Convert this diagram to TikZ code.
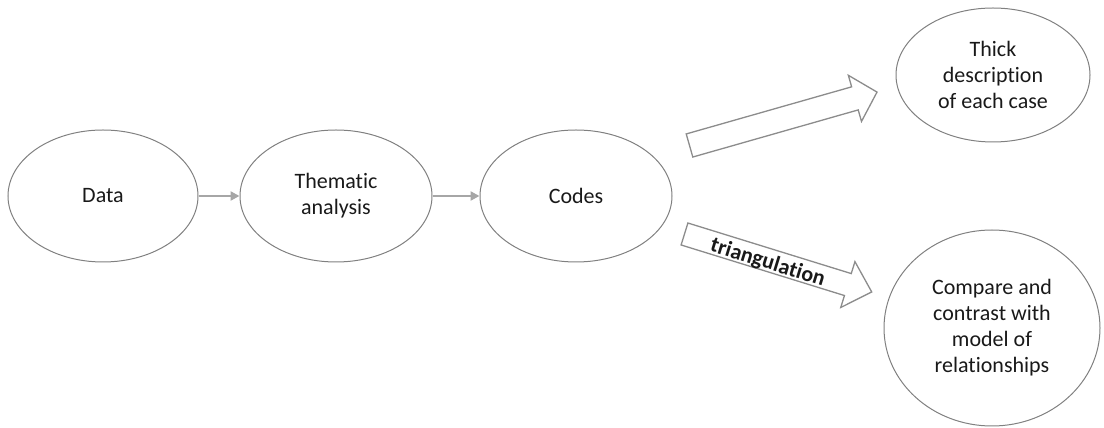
\documentclass[tikz,border=0pt]{standalone}
\usepackage{fontspec}
\setmainfont[RawFeature=-liga]{Carlito}
\usetikzlibrary{shapes.geometric,arrows.meta}
\definecolor{outl}{RGB}{128,128,128}
\definecolor{conn}{RGB}{166,166,166}
\definecolor{blk}{RGB}{140,140,140}
\tikzset{
  oval/.style={ellipse, draw=outl, line width=1pt, inner sep=0pt, align=center,
    font=\fontsize{22}{26}\selectfont, text=black!90},
  connarrow/.style={draw=conn, line width=2.5pt, -{Triangle[length=9pt,width=9pt]}},
  blockarrow/.style={draw=blk, line width=1.3pt, fill=white, line join=miter}
}
\begin{document}
\begin{tikzpicture}[x=1pt,y=1pt]
\useasboundingbox (0,0) rectangle (1104,428);
\node[oval, minimum width=190pt, minimum height=132pt] (data) at (103,232) {Data};
\node[oval, minimum width=192pt, minimum height=132pt] (them) at (336,232) {Thematic\\analysis};
\node[oval, minimum width=192pt, minimum height=132pt] (codes) at (576,232) {Codes};
\node[oval, minimum width=194pt, minimum height=134pt] (thick) at (993,353) {Thick\\description\\of each case};
\node[oval, minimum width=216pt, minimum height=196pt] (comp) at (992,100) {Compare and\\contrast with\\model of\\relationships};
\draw[connarrow] (data) -- (them);
\draw[connarrow] (them) -- (codes);
\begin{scope}[shift={(689.5,282.5)}, rotate=15.9]
  \coordinate (a1tail) at (0,0);
  \coordinate (a1tip) at (195,0);
  \draw[blockarrow] (0,-12) -- (172,-12) -- (172,-24) -- (a1tip) -- (172,24) -- (172,12) -- (0,12) -- cycle;
\end{scope}
\begin{scope}[shift={(684.5,194)}, rotate=-17.2]
  \coordinate (a2tail) at (0,0);
  \coordinate (a2tip) at (196,0);
  \draw[blockarrow] (0,-11.5) -- (171,-11.5) -- (171,-24) -- (a2tip) -- (171,24) -- (171,11.5) -- (0,11.5) -- cycle;
  \node[rotate=-17.2, font=\fontsize{22}{26}\selectfont\bfseries, text=black!90, inner sep=0pt] (tri) at (88,-3) {triangulation};
\end{scope}
\end{tikzpicture}
\end{document}
